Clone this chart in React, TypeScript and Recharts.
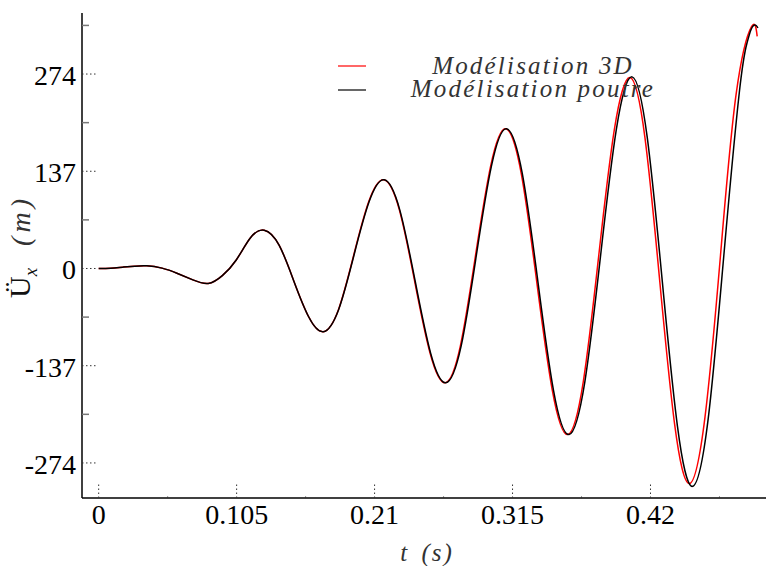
import React from "react";
import { LineChart, Line, XAxis, YAxis } from "recharts";

// time (s) and acceleration values
const seriesNames = ["Modélisation 3D", "Modélisation poutre"];
const seriesColors = ["#ff0000", "#000000"];

const redT = [
  0, 0.0091, 0.0183, 0.0274, 0.0365, 0.0482, 0.06, 0.0717, 0.0834, 0.0941, 0.1047, 0.1154, 0.126,
  0.1373, 0.1485, 0.1598, 0.171, 0.1825, 0.194, 0.2055, 0.2171, 0.2288, 0.2405, 0.2522, 0.2638,
  0.2753, 0.2868, 0.2984, 0.3098, 0.3216, 0.3334, 0.3452, 0.357, 0.3688, 0.3806, 0.3925, 0.4045,
  0.4158, 0.4271, 0.4384, 0.4497, 0.4615, 0.4733, 0.4852, 0.497, 0.5012,
];
const redV = [
  0, 0.5, 1.9, 3.2, 3.7, 0.5, -7, -16, -21, -10, 12, 43, 54, 33, -17.5, -68, -89, -58, 18, 94, 125,
  83, -18, -119, -161, -109, 18, 145, 197, 134, -18.5, -171, -234, -160, 18, 196, 269, 184, -19, -220,
  -303, -209, 19, 246, 341, 327,
];

const blackT = [
  0, 0.0091, 0.0183, 0.0274, 0.0365, 0.0482, 0.06, 0.0717, 0.0834, 0.0941, 0.1047, 0.1154, 0.126,
  0.1373, 0.1485, 0.1598, 0.171, 0.1826, 0.1942, 0.2058, 0.2174, 0.2291, 0.2409, 0.2526, 0.2643,
  0.2759, 0.2874, 0.299, 0.3105, 0.3224, 0.3343, 0.3461, 0.358, 0.37, 0.382, 0.394, 0.406, 0.4175,
  0.429, 0.4405, 0.452, 0.4639, 0.4758, 0.4876, 0.4935, 0.4965, 0.4995, 0.5018,
];
const blackV = [
  0, 0.5, 1.9, 3.2, 3.7, 0.5, -7, -16, -21, -10, 12, 43, 54, 33, -17.5, -68, -89, -58, 18, 94, 125,
  83, -18, -119, -161, -109, 18, 145, 197, 134, -18.5, -171, -234, -160, 18, 196, 270, 185, -18.5,
  -222, -307, -212, 18, 248, 318, 336.5, 343, 339,
];

const xMajor = [0, 0.105, 0.21, 0.315, 0.42];
const xMinor = [0.0525, 0.1575, 0.2625, 0.3675, 0.4725];
const yMajor = [-274, -137, 0, 137, 274];
const yMinor = [-205.5, -68.5, 68.5, 205.5, 342.5];

const xDomain = [-0.0127, 0.514];
const yDomain = [-323.4, 360];

const redData = redT.map((t, i) => ({ t, v: redV[i] }));
const blackData = blackT.map((t, i) => ({ t, v: blackV[i] }));

const FONT = "'Liberation Serif', 'Times New Roman', serif";
const DOT = "1.5 2.5";

const XTick = (props: any) => {
  const { x, y, payload, side } = props;
  const major = xMajor.includes(payload.value);
  const dir = side === "bottom" ? -1 : 1;
  const len = major ? 14 : 4;
  return (
    <g>
      <line x1={x} y1={y} x2={x} y2={y + dir * len} stroke="#333" strokeDasharray={DOT} />
      {major && side === "bottom" && (
        <text x={x} y={y + 26} textAnchor="middle" fontFamily={FONT} fontSize={28} fill="#000">
          {String(payload.value)}
        </text>
      )}
    </g>
  );
};

const YTick = (props: any) => {
  const { x, y, payload, side } = props;
  const major = yMajor.includes(payload.value);
  const dir = side === "left" ? 1 : -1;
  if (!major) {
    return <line x1={x} y1={y} x2={x + dir * 7} y2={y} stroke="#777" strokeWidth={1.5} />;
  }
  return (
    <g>
      <line x1={x} y1={y} x2={x + dir * 14} y2={y} stroke="#333" strokeDasharray={DOT} />
      {side === "left" && (
        <text x={x - 6} y={y + 11} textAnchor="end" fontFamily={FONT} fontSize={28} fill="#000">
          {String(payload.value)}
        </text>
      )}
    </g>
  );
};

const App = () => {
  const axisLine = { stroke: "#000", strokeWidth: 1.5 };
  return (
    <div
      style={{
        position: "absolute",
        left: 0,
        top: 0,
        width: 766,
        height: 566,
        overflow: "hidden",
        background: "#fff",
      }}
    >
      <LineChart width={790} height={566} margin={{ top: 13, right: 16, bottom: 0, left: 0 }}>
        <XAxis
          xAxisId="b"
          orientation="bottom"
          type="number"
          dataKey="t"
          domain={xDomain}
          allowDataOverflow
          ticks={[...xMajor, ...xMinor]}
          interval={0}
          height={68}
          tickSize={0}
          tickMargin={0}
          tickLine={false}
          axisLine={axisLine}
          tick={(p: any) => <XTick {...p} side="bottom" />}
        />
        <XAxis
          xAxisId="t"
          orientation="top"
          type="number"
          dataKey="t"
          domain={xDomain}
          allowDataOverflow
          ticks={[...xMajor, ...xMinor]}
          interval={0}
          height={0}
          tickSize={0}
          tickMargin={0}
          tickLine={false}
          axisLine={axisLine}
          tick={(p: any) => <XTick {...p} side="top" />}
        />
        <YAxis
          yAxisId="l"
          orientation="left"
          type="number"
          domain={yDomain}
          allowDataOverflow
          ticks={[...yMajor, ...yMinor]}
          interval={0}
          width={82}
          tickSize={0}
          tickMargin={0}
          tickLine={false}
          axisLine={axisLine}
          tick={(p: any) => <YTick {...p} side="left" />}
        />
        <YAxis
          yAxisId="r"
          orientation="right"
          type="number"
          domain={yDomain}
          allowDataOverflow
          ticks={[...yMajor, ...yMinor]}
          interval={0}
          width={0}
          tickSize={0}
          tickMargin={0}
          tickLine={false}
          axisLine={axisLine}
          tick={(p: any) => <YTick {...p} side="right" />}
        />
        <Line
          xAxisId="b"
          yAxisId="l"
          data={redData}
          dataKey="v"
          name={seriesNames[0]}
          type="natural"
          stroke={seriesColors[0]}
          strokeWidth={1.5}
          dot={false}
          isAnimationActive={false}
        />
        <Line
          xAxisId="b"
          yAxisId="l"
          data={blackData}
          dataKey="v"
          name={seriesNames[1]}
          type="natural"
          stroke={seriesColors[1]}
          strokeWidth={1.5}
          dot={false}
          isAnimationActive={false}
        />
      </LineChart>
      <svg
        width={766}
        height={566}
        style={{ position: "absolute", left: 0, top: 0, pointerEvents: "none" }}
      >
        {/* legend */}
        {seriesNames.map((n, i) => (
          <g key={n}>
            <line x1={338} x2={366} y1={66 + i * 24} y2={66 + i * 24} stroke={seriesColors[i]} strokeWidth={1.2} />
            <text
              x={533}
              y={74 + i * 23}
              textAnchor="middle"
              fontFamily={FONT}
              fontStyle="italic"
              fontSize={25}
              letterSpacing={2.2}
              fill="#333"
            >
              {n}
            </text>
          </g>
        ))}
        {/* axis titles */}
        <text
          x={427}
          y={561}
          textAnchor="middle"
          fontFamily={FONT}
          fontStyle="italic"
          fontSize={25}
          letterSpacing={2}
          wordSpacing={4}
          fill="#333"
        >
          t (s)
        </text>
        <text transform="translate(30,298) rotate(-90)" fontFamily={FONT} fill="#111">
          <tspan fontSize={30}>Ü</tspan>
          <tspan fontSize={19} fontStyle="italic" dy={7}>x</tspan>
          <tspan fontSize={28} fontStyle="italic" dy={-7} dx={22} letterSpacing={4} fill="#333">(m)</tspan>
        </text>
      </svg>
    </div>
  );
};

export default App;
